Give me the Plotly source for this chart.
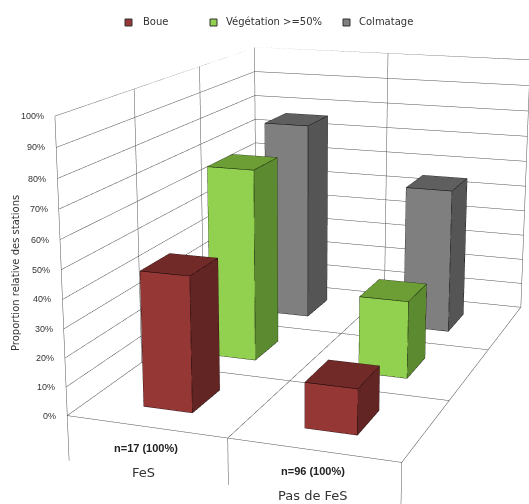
import numpy as np
import plotly.graph_objects as go

categories = ["FeS", "Pas de FeS"]
counts = ["n=17 (100%)", "n=96 (100%)"]
series = ["Boue", "Végétation >=50%", "Colmatage"]
boue = [47.1, 15.6]
vegetation = [70.6, 28.1]
colmatage = [76.5, 55.2]
ticks = list(range(0, 101, 10))
axis_title = "Proportion relative des stations"

FRONT = ["#953735", "#92D050", "#7F7F7F"]
SIDE = ["#632523", "#5C8A30", "#555555"]
TOP = ["#722A28", "#6C9E35", "#5F5F5F"]
BAR_X = (0.35, 0.66)
BAR_Y = (0.29, 0.70)
DROP = -16

ASPECT = (1.1454, 1.7121, 1.2)
EYE = np.array([1.7834, -5.1272, 1.4518])
CENTER = np.array([-0.1954, -0.0187, -0.0181])
ROLL = 0.0062
FOVY = 0.3203

d = (CENTER - EYE) / np.linalg.norm(CENTER - EYE)
r = np.cross(d, [0, 0, 1.0]); r /= np.linalg.norm(r)
u = np.cross(r, d)
UP = np.cos(ROLL) * u + np.sin(ROLL) * r

fig = go.Figure()

# grid
gx, gy, gz = [], [], []
def seg(a, b):
    gx.extend([a[0], b[0], None]); gy.extend([a[1], b[1], None]); gz.extend([a[2], b[2], None])
for t in ticks:
    seg((0, 3, t), (2, 3, t))
    seg((0, 0, t), (0, 3, t))
for c in (0, 1, 2):
    seg((c, 0, 0), (c, 3, 0))
    seg((c, 3, 0), (c, 3, 100))
    seg((c, 0, DROP), (c, 0, 0))
for s in (0, 1, 2, 3):
    seg((0, s, 0), (2, s, 0))
    seg((0, s, 0), (0, s, 100))
fig.add_trace(go.Scatter3d(x=gx, y=gy, z=gz, mode="lines", line=dict(color="#505050", width=1),
                           hoverinfo="skip", showlegend=False, connectgaps=False))

# bars
ex, ey, ez = [], [], []
for j, vals in enumerate([boue, vegetation, colmatage]):
    for i, v in enumerate(vals):
        x0, x1 = i + BAR_X[0], i + BAR_X[1]
        y0, y1 = j + BAR_Y[0], j + BAR_Y[1]
        X = [x0, x1, x1, x0, x0, x1, x1, x0]
        Y = [y0, y0, y1, y1, y0, y0, y1, y1]
        Z = [0, 0, 0, 0, v, v, v, v]
        fi = [0, 0, 1, 1, 4, 4, 0, 0, 3, 3]
        fj = [1, 5, 2, 6, 5, 6, 3, 7, 2, 6]
        fk = [5, 4, 6, 5, 6, 7, 7, 4, 6, 7]
        fc = [FRONT[j]] * 2 + [SIDE[j]] * 2 + [TOP[j]] * 2 + [FRONT[j]] * 2 + [SIDE[j]] * 2
        fig.add_trace(go.Mesh3d(x=X, y=Y, z=Z, i=fi, j=fj, k=fk, facecolor=fc, flatshading=True,
                                lighting=dict(ambient=1, diffuse=0, specular=0, fresnel=0, roughness=1),
                                hoverinfo="skip", showscale=False, name=series[j]))
        loops = [(0, 1, 5, 4, 0), (1, 2, 6, 5), (4, 7, 6)]
        for loop in loops:
            for a in loop:
                ex.append(X[a]); ey.append(Y[a]); ez.append(Z[a])
            ex.append(None); ey.append(None); ez.append(None)
fig.add_trace(go.Scatter3d(x=ex, y=ey, z=ez, mode="lines", line=dict(color="#000000", width=1),
                           hoverinfo="skip", showlegend=False))

ax = dict(visible=False, showgrid=False, zeroline=False, showbackground=False, showspikes=False)
tick_ann = [dict(x=0, y=0, z=t, text=f"{t}%", showarrow=False, xanchor="right", xshift=-9,
                 font=dict(family="Liberation Sans", size=9, color="#333333"))
            for t in ticks]

def note(px, py, text, size, family="DejaVu Sans", color="#333333", xanchor="center", **kw):
    return dict(xref="paper", yref="paper", x=px / 529, y=1 - py / 504, text=text, showarrow=False,
                xanchor=xanchor, yanchor="middle", font=dict(family=family, size=size, color=color), **kw)

notes = [
    note(141, 22, series[0], 10, xanchor="left"),
    note(224, 22, series[1], 10, xanchor="left"),
    note(357, 22, series[2], 10, xanchor="left"),
    note(15, 273, axis_title, 10, textangle=-90),
    note(146, 448, f"<b>{counts[0]}</b>", 11, family="Liberation Sans", color="#222222"),
    note(313, 471, f"<b>{counts[1]}</b>", 11, family="Liberation Sans", color="#222222"),
    note(143, 472, categories[0], 13),
    note(313, 495, categories[1], 13),
]

shapes = [dict(type="rect", xref="paper", yref="paper", x0=a / 529, x1=(a + 7) / 529, y0=1 - 26 / 504, y1=1 - 19 / 504,
               fillcolor=FRONT[k], line=dict(color="#333333", width=1))
          for k, a in enumerate((125, 210, 343))]

fig.update_layout(
    width=529, height=504, margin=dict(l=0, r=0, t=0, b=0), paper_bgcolor="white", showlegend=False,
    annotations=notes, shapes=shapes,
    scene=dict(
        domain=dict(x=[0, 1], y=[0, 1]), bgcolor="white",
        xaxis=dict(range=[0, 2], **ax), yaxis=dict(range=[0, 3], **ax), zaxis=dict(range=[-20, 100], **ax),
        aspectmode="manual", aspectratio=dict(x=ASPECT[0], y=ASPECT[1], z=ASPECT[2]),
        camera=dict(eye=dict(x=EYE[0], y=EYE[1], z=EYE[2]), center=dict(x=CENTER[0], y=CENTER[1], z=CENTER[2]),
                    up=dict(x=UP[0], y=UP[1], z=UP[2]), projection=dict(type="perspective")),
        annotations=tick_ann,
    ),
)

post = """
document.body.style.margin = '0';
document.documentElement.style.overflow = 'hidden';
var gd = document.getElementById('{plot_id}');
var sc = gd._fullLayout.scene._scene;
sc.glplot.fovy = %f;
sc.glplot.redraw();
""" % FOVY
fig.write_html("out.html", config=dict(displayModeBar=False), post_script=post)
